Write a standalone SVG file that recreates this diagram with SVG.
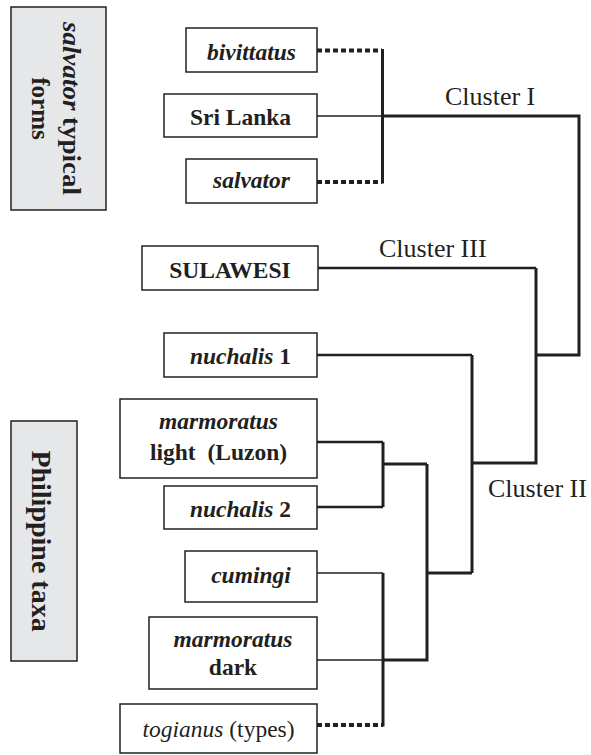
<svg xmlns="http://www.w3.org/2000/svg" width="591" height="755" viewBox="0 0 591 755">
<style>
.bx{fill:#fff;stroke:#231f20;stroke-width:1.5}
.gb{fill:#e6e7e8;stroke:#231f20;stroke-width:1.5}
text{font-family:"Liberation Serif","Times New Roman",serif;fill:#231f20}
.n{font-size:23.5px;font-weight:bold;text-anchor:middle}
.i{font-style:italic}
.r{font-weight:normal}
.cl{font-size:26px}
.rot{font-weight:bold;text-anchor:middle}
.tk{fill:none;stroke:#231f20;stroke-width:3}
.md{fill:none;stroke:#231f20;stroke-width:2.3}
.tn{fill:none;stroke:#231f20;stroke-width:1.4}
.dt{fill:none;stroke:#231f20;stroke-width:4;stroke-dasharray:5 3}
</style>
<g id="label-salvator">
<rect class="gb" x="11" y="7" width="95" height="203"/>
<text class="rot" transform="translate(63,108.5) rotate(90)" style="font-size:25px" textLength="173" lengthAdjust="spacingAndGlyphs"><tspan class="i">salvator</tspan> typical</text>
<text class="rot" transform="translate(32,108.5) rotate(90)" style="font-size:25px">forms</text>
</g>
<g id="label-philippine">
<rect class="gb" x="11" y="421" width="66" height="240"/>
<text class="rot" transform="translate(32,541) rotate(90)" style="font-size:28px">Philippine taxa</text>
</g>
<g id="bivittatus">
<rect class="bx" x="186" y="28" width="131" height="44"/>
<text class="n i" x="251.5" y="60">bivittatus</text>
</g>
<g id="srilanka">
<rect class="bx" x="164" y="94" width="153" height="43"/>
<text class="n" x="240.5" y="125">Sri Lanka</text>
</g>
<g id="salvator">
<rect class="bx" x="186" y="159" width="131" height="44"/>
<text class="n i" x="251.5" y="188">salvator</text>
</g>
<g id="sulawesi">
<rect class="bx" x="142" y="246" width="176" height="44"/>
<text class="n" x="230" y="278">SULAWESI</text>
</g>
<g id="nuchalis1">
<rect class="bx" x="164" y="333" width="153" height="44"/>
<text class="n" x="240.5" y="364"><tspan class="i">nuchalis</tspan> 1</text>
</g>
<g id="marmoratus-light">
<rect class="bx" x="120" y="399" width="197" height="79"/>
<text class="n i" x="218.5" y="429">marmoratus</text>
<text class="n" x="218.5" y="460" xml:space="preserve">light  (Luzon)</text>
</g>
<g id="nuchalis2">
<rect class="bx" x="164" y="486" width="153" height="43"/>
<text class="n" x="240.5" y="517"><tspan class="i">nuchalis</tspan> 2</text>
</g>
<g id="cumingi">
<rect class="bx" x="185" y="551" width="132" height="51"/>
<text class="n i" x="251" y="583">cumingi</text>
</g>
<g id="marmoratus-dark">
<rect class="bx" x="149" y="617" width="168" height="72"/>
<text class="n i" x="233" y="647">marmoratus</text>
<text class="n" x="233" y="675">dark</text>
</g>
<g id="togianus">
<rect class="bx" x="120" y="704" width="197" height="49"/>
<text class="n r" x="218.5" y="737"><tspan class="i">togianus</tspan> (types)</text>
</g>
<g id="connectors">
<path class="dt" d="M317 50.5H382M317 182H382M317 725H383"/>
<path class="tn" d="M317 116H382.5M317 573H383M317 660H383"/>
<path class="md" d="M318 268H536M317 355H472M317 442H383M317 507H383"/>
<path class="tk" d="M382.5 49V183.5M382.5 116H579V355H537M536 268V463H472M472 355V573M383 442V507M383 464H427M427 464V660H383M427 573H472M383 573V726.5"/>
</g>
<g id="cluster-labels">
<text class="cl" x="445" y="105">Cluster I</text>
<text class="cl" x="379" y="257">Cluster III</text>
<text class="cl" x="488" y="497">Cluster II</text>
</g>
</svg>
